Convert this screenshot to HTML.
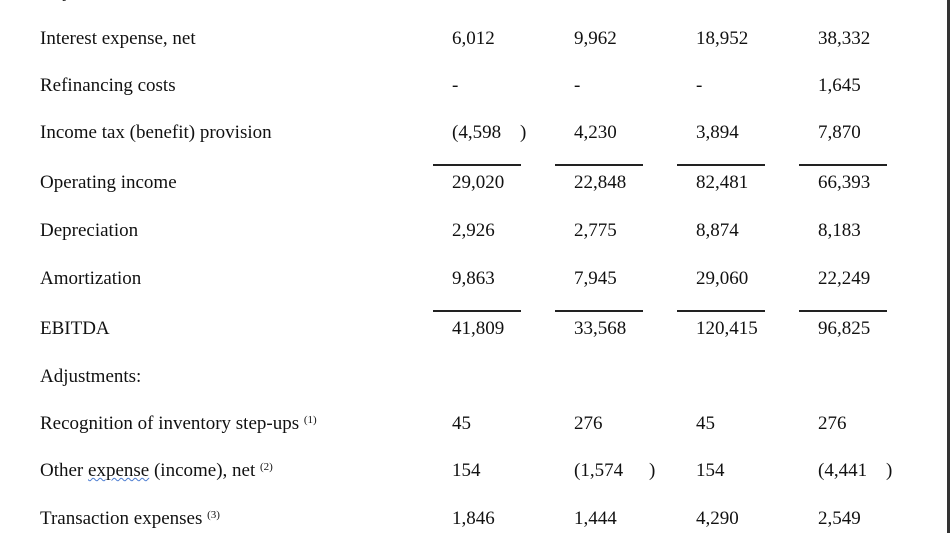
<!DOCTYPE html>
<html><head><style>
body{margin:0;width:950px;height:533px;background:#fff;position:relative;overflow:hidden;font-family:"Liberation Serif","Times New Roman",Times,serif;font-size:19px;color:#111}
div.t{position:absolute;white-space:nowrap;line-height:20px;font-family:"Liberation Serif","Times New Roman",Times,serif}
.r{position:absolute;height:1.5px;background:#222;width:88px}
sup{font-size:11px;vertical-align:6px;line-height:0}
</style></head><body>
<div class="t" style="left:40px;top:-18px">Adjustments to reconcile:</div>

<div class="t" style="left:40px;top:29px">Interest expense, net</div>
<div class="t" style="left:452px;top:29px">6,012</div><div class="t" style="left:574px;top:29px">9,962</div><div class="t" style="left:696px;top:29px">18,952</div><div class="t" style="left:818px;top:29px">38,332</div>

<div class="t" style="left:40px;top:76px">Refinancing costs</div>
<div class="t" style="left:452px;top:76px">-</div><div class="t" style="left:574px;top:76px">-</div><div class="t" style="left:696px;top:76px">-</div><div class="t" style="left:818px;top:76px">1,645</div>

<div class="t" style="left:40px;top:123px">Income tax (benefit) provision</div>
<div class="t" style="left:452px;top:123px">(4,598</div><div class="t" style="left:520px;top:123px">)</div><div class="t" style="left:574px;top:123px">4,230</div><div class="t" style="left:696px;top:123px">3,894</div><div class="t" style="left:818px;top:123px">7,870</div>

<div class="r" style="left:433px;top:164px"></div><div class="r" style="left:555px;top:164px"></div><div class="r" style="left:677px;top:164px"></div><div class="r" style="left:799px;top:164px"></div>

<div class="t" style="left:40px;top:173px">Operating income</div>
<div class="t" style="left:452px;top:173px">29,020</div><div class="t" style="left:574px;top:173px">22,848</div><div class="t" style="left:696px;top:173px">82,481</div><div class="t" style="left:818px;top:173px">66,393</div>

<div class="t" style="left:40px;top:221px">Depreciation</div>
<div class="t" style="left:452px;top:221px">2,926</div><div class="t" style="left:574px;top:221px">2,775</div><div class="t" style="left:696px;top:221px">8,874</div><div class="t" style="left:818px;top:221px">8,183</div>

<div class="t" style="left:40px;top:269px">Amortization</div>
<div class="t" style="left:452px;top:269px">9,863</div><div class="t" style="left:574px;top:269px">7,945</div><div class="t" style="left:696px;top:269px">29,060</div><div class="t" style="left:818px;top:269px">22,249</div>

<div class="r" style="left:433px;top:310px"></div><div class="r" style="left:555px;top:310px"></div><div class="r" style="left:677px;top:310px"></div><div class="r" style="left:799px;top:310px"></div>

<div class="t" style="left:40px;top:319px">EBITDA</div>
<div class="t" style="left:452px;top:319px">41,809</div><div class="t" style="left:574px;top:319px">33,568</div><div class="t" style="left:696px;top:319px">120,415</div><div class="t" style="left:818px;top:319px">96,825</div>

<div class="t" style="left:40px;top:367px">Adjustments:</div>

<div class="t" style="left:40px;top:414px">Recognition of inventory step-ups <sup>(1)</sup></div>
<div class="t" style="left:452px;top:414px">45</div><div class="t" style="left:574px;top:414px">276</div><div class="t" style="left:696px;top:414px">45</div><div class="t" style="left:818px;top:414px">276</div>

<div class="t" style="left:40px;top:461px">Other <span style="text-decoration:underline wavy #4a7bd0;text-decoration-thickness:1px">expense</span> (income), net <sup>(2)</sup></div>
<div class="t" style="left:452px;top:461px">154</div><div class="t" style="left:574px;top:461px">(1,574</div><div class="t" style="left:649px;top:461px">)</div><div class="t" style="left:696px;top:461px">154</div><div class="t" style="left:818px;top:461px">(4,441</div><div class="t" style="left:886px;top:461px">)</div>

<div class="t" style="left:40px;top:509px">Transaction expenses <sup>(3)</sup></div>
<div class="t" style="left:452px;top:509px">1,846</div><div class="t" style="left:574px;top:509px">1,444</div><div class="t" style="left:696px;top:509px">4,290</div><div class="t" style="left:818px;top:509px">2,549</div>

<div style="position:absolute;left:947px;top:0;width:3px;height:533px;background:#333"></div>
</body></html>
